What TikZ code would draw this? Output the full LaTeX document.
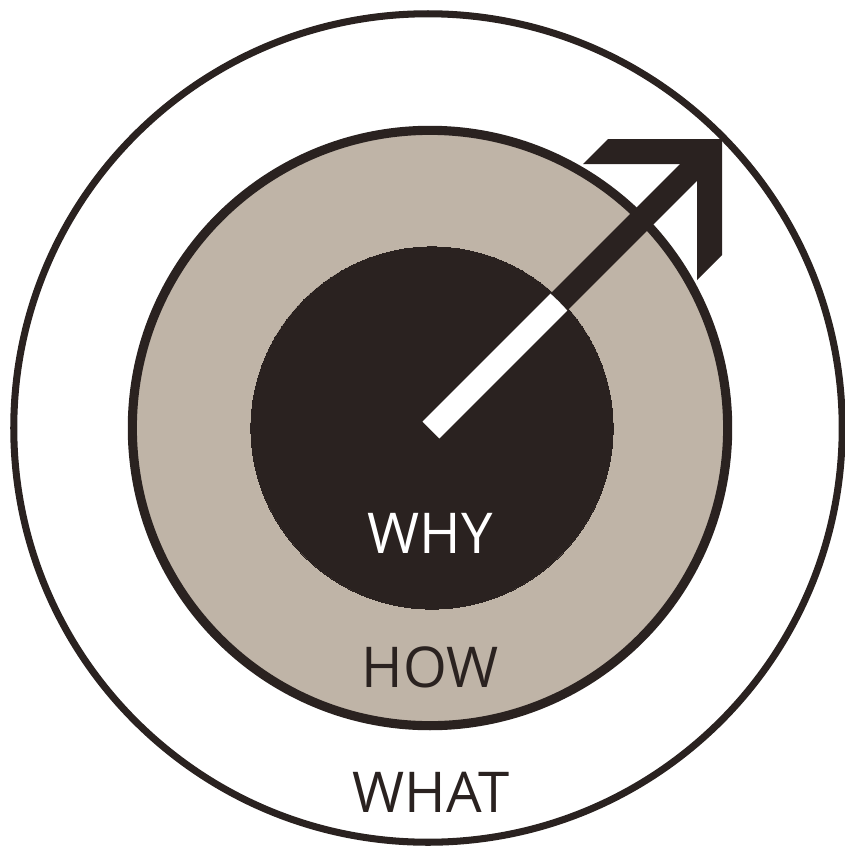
\documentclass[tikz,border=0pt]{standalone}
\usepackage{fontspec}
\setmainfont{Open Sans}
\usepackage{tikz}
\usetikzlibrary{positioning}
\definecolor{ink}{HTML}{2A2220}
\definecolor{sand}{HTML}{BFB4A7}

\begin{document}
\begin{tikzpicture}[
  x=0.01cm, y=-0.01cm,
  ring/.style  = {circle, draw=ink, inner sep=0pt, outer sep=0pt},
  word/.style  = {anchor=base, inner sep=0pt, font=\fontsize{16}{19}\selectfont},
  shaft/.style = {line width=0.24cm, line cap=butt},
]
\useasboundingbox (0,0) rectangle (844,848);
\node[ring, line width=2pt, fill=white, minimum size=8.28cm] (whatring) at (428,428) {};
\node[ring, line width=2.6pt, fill=sand, minimum size=5.95cm] (howring) at (430,428) {};
\node[ring, line width=0pt, fill=ink, minimum size=3.62cm] (whyring) at (432,428) {};
\coordinate (tail) at (431,430);
\coordinate (corner) at (710,151);
\draw[shaft, ink] (tail) -- (corner);
\begin{scope}
  \clip (whyring.center) circle[radius=1.79cm];
  \draw[shaft, white] (tail) -- (corner);
\end{scope}
\fill[ink] (583,164) -- (608,139) -- (722,139) -- (722,255) -- (697,280) -- (697,164) -- cycle;
\node[word, text=white] (why) at (430,553) {WHY};
\node[word, text=ink] (how) at (430,687) {HOW};
\node[word, text=ink] (what) at (431,812) {WHAT};
\end{tikzpicture}
\end{document}
